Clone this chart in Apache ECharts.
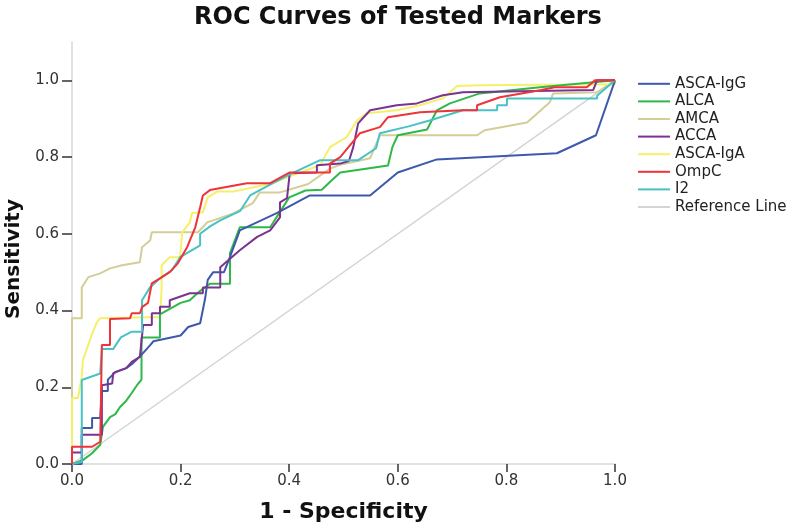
<!DOCTYPE html>
<html>
<head>
<meta charset="utf-8">
<script src="https://cdn.jsdelivr.net/npm/echarts@6/dist/echarts.min.js"></script>
<style>
html,body{margin:0;padding:0;background:#fff;}
#chart{width:800px;height:524px;}
</style>
</head>
<body>
<div id="chart"></div>
<script>
// ---- Data (1 - Specificity, Sensitivity) ----
const seriesNames = ['ASCA-IgG', 'ALCA', 'AMCA', 'ACCA', 'ASCA-IgA', 'OmpC', 'I2', 'Reference Line'];
const xTicks = [0, 0.2, 0.4, 0.6, 0.8, 1.0];
const yTicks = [0, 0.2, 0.4, 0.6, 0.8, 1.0];

const ascaIgG = [[0,0],[0.018,0],[0.018,0.094],[0.037,0.094],[0.037,0.12],[0.052,0.12],[0.055,0.19],[0.066,0.19],[0.066,0.22],[0.08,0.24],[0.1,0.25],[0.11,0.26],[0.125,0.28],[0.144,0.31],[0.15,0.32],[0.2,0.335],[0.214,0.357],[0.236,0.367],[0.245,0.43],[0.25,0.48],[0.26,0.5],[0.28,0.5],[0.291,0.54],[0.309,0.609],[0.377,0.654],[0.438,0.70],[0.549,0.70],[0.6,0.76],[0.672,0.794],[0.893,0.81],[0.965,0.857],[1,1]];

const alca = [[0,0],[0.02,0.01],[0.037,0.028],[0.052,0.05],[0.055,0.05],[0.057,0.097],[0.07,0.122],[0.08,0.13],[0.088,0.148],[0.1,0.165],[0.11,0.185],[0.12,0.206],[0.128,0.22],[0.128,0.33],[0.162,0.33],[0.162,0.39],[0.2,0.42],[0.217,0.427],[0.235,0.45],[0.254,0.47],[0.291,0.47],[0.291,0.55],[0.309,0.617],[0.365,0.617],[0.40,0.695],[0.43,0.713],[0.46,0.715],[0.475,0.735],[0.494,0.76],[0.582,0.778],[0.59,0.826],[0.6,0.857],[0.654,0.872],[0.672,0.922],[0.696,0.94],[0.751,0.966],[0.862,0.982],[1,1]];

const amca = [[0,0],[0,0.38],[0.018,0.38],[0.018,0.46],[0.03,0.487],[0.052,0.497],[0.07,0.51],[0.092,0.518],[0.125,0.526],[0.129,0.565],[0.144,0.583],[0.147,0.604],[0.232,0.604],[0.249,0.63],[0.26,0.635],[0.297,0.653],[0.333,0.68],[0.346,0.708],[0.383,0.708],[0.435,0.73],[0.475,0.77],[0.494,0.78],[0.549,0.797],[0.567,0.857],[0.746,0.857],[0.76,0.87],[0.838,0.89],[0.88,0.943],[0.886,0.966],[0.967,0.969],[1,1]];

const acca = [[0,0],[0,0.03],[0.018,0.03],[0.018,0.076],[0.055,0.076],[0.055,0.205],[0.074,0.21],[0.076,0.237],[0.1,0.25],[0.11,0.266],[0.125,0.279],[0.131,0.362],[0.147,0.362],[0.147,0.393],[0.162,0.393],[0.162,0.41],[0.18,0.41],[0.18,0.427],[0.217,0.445],[0.241,0.445],[0.241,0.46],[0.273,0.46],[0.273,0.513],[0.309,0.557],[0.341,0.592],[0.365,0.609],[0.383,0.643],[0.383,0.682],[0.396,0.693],[0.401,0.758],[0.451,0.76],[0.451,0.779],[0.494,0.783],[0.51,0.79],[0.518,0.826],[0.527,0.888],[0.549,0.922],[0.598,0.935],[0.635,0.94],[0.683,0.961],[0.72,0.969],[0.96,0.975],[0.967,1],[1,1]];

const ascaIgA = [[0,0],[0,0.172],[0.011,0.172],[0.018,0.227],[0.02,0.27],[0.037,0.34],[0.046,0.37],[0.052,0.38],[0.162,0.383],[0.165,0.453],[0.165,0.518],[0.18,0.539],[0.199,0.539],[0.203,0.604],[0.217,0.63],[0.221,0.654],[0.241,0.656],[0.25,0.695],[0.267,0.71],[0.297,0.71],[0.37,0.732],[0.42,0.76],[0.457,0.779],[0.475,0.826],[0.506,0.852],[0.525,0.896],[0.543,0.914],[0.598,0.922],[0.641,0.935],[0.683,0.953],[0.709,0.985],[0.751,0.987],[1,0.99],[1,1]];

const ompC = [[0,0],[0,0.045],[0.037,0.045],[0.052,0.058],[0.055,0.31],[0.07,0.31],[0.07,0.378],[0.107,0.38],[0.11,0.393],[0.125,0.393],[0.129,0.409],[0.14,0.42],[0.147,0.471],[0.162,0.484],[0.18,0.5],[0.195,0.523],[0.212,0.565],[0.227,0.617],[0.236,0.669],[0.241,0.70],[0.254,0.714],[0.322,0.732],[0.365,0.732],[0.401,0.76],[0.475,0.76],[0.475,0.783],[0.494,0.80],[0.53,0.862],[0.567,0.878],[0.582,0.904],[0.641,0.917],[0.72,0.922],[0.746,0.922],[0.746,0.935],[0.788,0.956],[0.862,0.974],[0.889,0.982],[0.948,0.982],[0.963,1.0],[1,1]];

const i2 = [[0,0],[0.018,0.005],[0.018,0.219],[0.02,0.224],[0.052,0.236],[0.055,0.30],[0.076,0.30],[0.09,0.33],[0.11,0.345],[0.129,0.345],[0.129,0.427],[0.144,0.461],[0.162,0.484],[0.184,0.505],[0.199,0.539],[0.236,0.57],[0.236,0.60],[0.255,0.62],[0.273,0.635],[0.31,0.66],[0.328,0.70],[0.37,0.732],[0.401,0.755],[0.457,0.792],[0.527,0.792],[0.56,0.823],[0.567,0.862],[0.62,0.88],[0.66,0.896],[0.72,0.922],[0.783,0.922],[0.783,0.935],[0.801,0.935],[0.801,0.953],[0.967,0.953],[0.967,0.96],[1,1]];

const referenceLine = [[0,0],[1,1]];

const seriesData = [ascaIgG, alca, amca, acca, ascaIgA, ompC, i2, referenceLine];
const seriesColors = ['#3E58AC', '#2EB848', '#D3CE97', '#7C3290', '#F5F06A', '#EF3338', '#48C2C5', '#D4D4D4'];

// ---- Chart ----
const chart = echarts.init(document.getElementById('chart'), null, {renderer: 'canvas'});
const FONT = 'DejaVu Sans';

const drawOrder = [7, 2, 4, 1, 0, 3, 6, 5];
const series = drawOrder.map(function (i) {
  return {
    name: seriesNames[i],
    type: 'line',
    data: seriesData[i],
    symbol: 'none',
    smooth: false,
    color: seriesColors[i],
    lineStyle: {width: i === 7 ? 1.5 : 2, color: seriesColors[i]},
    emphasis: {disabled: true},
    z: 2
  };
});

chart.setOption({
  animation: false,
  backgroundColor: '#ffffff',
  title: {
    text: 'ROC Curves of Tested Markers',
    left: 189,
    top: 1,
    textStyle: {fontFamily: FONT, fontSize: 24, fontWeight: 'bold', color: '#111'}
  },
  legend: {
    data: seriesNames,
    orient: 'vertical',
    left: 633,
    top: 70,
    itemWidth: 32,
    itemHeight: 2,
    itemGap: 0,
    icon: 'rect',
    selectedMode: false,
    textStyle: {fontFamily: FONT, fontSize: 15, color: '#222', lineHeight: 17.6}
  },
  grid: {left: 72, right: 185, top: 42, bottom: 60, containLabel: false, outerBoundsMode: 'none'},
  xAxis: {
    type: 'value',
    min: 0,
    max: 1,
    interval: 0.2,
    name: '1 - Specificity',
    nameLocation: 'middle',
    nameGap: 37,
    nameTextStyle: {fontFamily: FONT, fontSize: 22, fontWeight: 'bold', color: '#111'},
    axisLine: {show: true, lineStyle: {color: '#d9d9d9', width: 1.5}},
    axisTick: {show: true, inside: false, length: 8, lineStyle: {color: '#333', width: 1.5}, customValues: xTicks},
    axisLabel: {customValues: xTicks, margin: 10, fontFamily: FONT, fontSize: 15, color: '#333', formatter: function (v) { return v.toFixed(1); }},
    splitLine: {show: false}
  },
  yAxis: {
    type: 'value',
    min: 0,
    max: 1.1,
    name: 'Sensitivity',
    nameLocation: 'middle',
    nameGap: 48,
    nameRotate: 90,
    nameTextStyle: {fontFamily: FONT, fontSize: 20, fontWeight: 'bold', color: '#111', padding: [0, 12, 0, 0]},
    axisLine: {show: true, lineStyle: {color: '#d9d9d9', width: 1.5}},
    axisTick: {show: true, inside: false, length: 10, lineStyle: {color: '#333', width: 1.5}, customValues: yTicks},
    axisLabel: {customValues: yTicks, margin: 13, fontFamily: FONT, fontSize: 15, color: '#333', formatter: function (v) { return v.toFixed(1); }},
    splitLine: {show: false}
  },
  series: series
});
</script>
</body>
</html>
